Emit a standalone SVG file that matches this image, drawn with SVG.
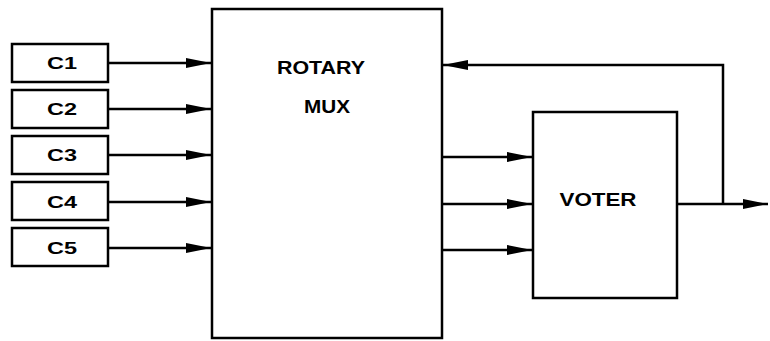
<svg xmlns="http://www.w3.org/2000/svg" width="770" height="341" viewBox="0 0 770 341">
<style>
.box{fill:#fff;stroke:#000;stroke-width:2.5}
.ln{fill:none;stroke:#000;stroke-width:2.5}
text{font-family:"Liberation Sans",Arial,sans-serif;font-weight:bold;fill:#000;text-anchor:middle;dominant-baseline:central}
.s{font-size:17px}
.b{font-size:18px}
</style>
<defs>
<marker id="ah" markerUnits="userSpaceOnUse" markerWidth="26" markerHeight="16" refX="25" refY="8" orient="auto">
<path d="M0,3 L25,8 L0,13 Z" fill="#000"/>
</marker>
</defs>
<rect width="770" height="341" fill="#fff"/>
<g id="connectors">
<path class="ln" d="M108,63 H211" marker-end="url(#ah)"/>
<path class="ln" d="M108,109 H211" marker-end="url(#ah)"/>
<path class="ln" d="M108,155 H211" marker-end="url(#ah)"/>
<path class="ln" d="M108,202 H211" marker-end="url(#ah)"/>
<path class="ln" d="M108,248 H211" marker-end="url(#ah)"/>
<path class="ln" d="M442,157 H532" marker-end="url(#ah)"/>
<path class="ln" d="M442,204 H532" marker-end="url(#ah)"/>
<path class="ln" d="M442,250 H532" marker-end="url(#ah)"/>
<path class="ln" d="M677,204 H768" marker-end="url(#ah)"/>
<path class="ln" d="M723,204 V65 H443" marker-end="url(#ah)"/>
</g>
<g id="c1"><rect class="box" x="12" y="44" width="96" height="38"/><text class="s" x="62" y="63" textLength="30" lengthAdjust="spacingAndGlyphs">C1</text></g>
<g id="c2"><rect class="box" x="12" y="90" width="96" height="38"/><text class="s" x="62" y="109" textLength="30" lengthAdjust="spacingAndGlyphs">C2</text></g>
<g id="c3"><rect class="box" x="12" y="136" width="96" height="38"/><text class="s" x="62" y="155" textLength="30" lengthAdjust="spacingAndGlyphs">C3</text></g>
<g id="c4"><rect class="box" x="12" y="182" width="96" height="38"/><text class="s" x="62" y="202" textLength="30" lengthAdjust="spacingAndGlyphs">C4</text></g>
<g id="c5"><rect class="box" x="12" y="228" width="96" height="38"/><text class="s" x="62" y="248" textLength="30" lengthAdjust="spacingAndGlyphs">C5</text></g>
<g id="mux"><rect class="box" x="212" y="9" width="230" height="329"/><text class="b" x="321" y="68" textLength="88" lengthAdjust="spacingAndGlyphs">ROTARY</text><text class="b" x="327" y="107" textLength="46" lengthAdjust="spacingAndGlyphs">MUX</text></g>
<g id="voter"><rect class="box" x="533" y="112" width="144" height="186"/><text class="b" x="598" y="200" textLength="77" lengthAdjust="spacingAndGlyphs">VOTER</text></g>
</svg>
